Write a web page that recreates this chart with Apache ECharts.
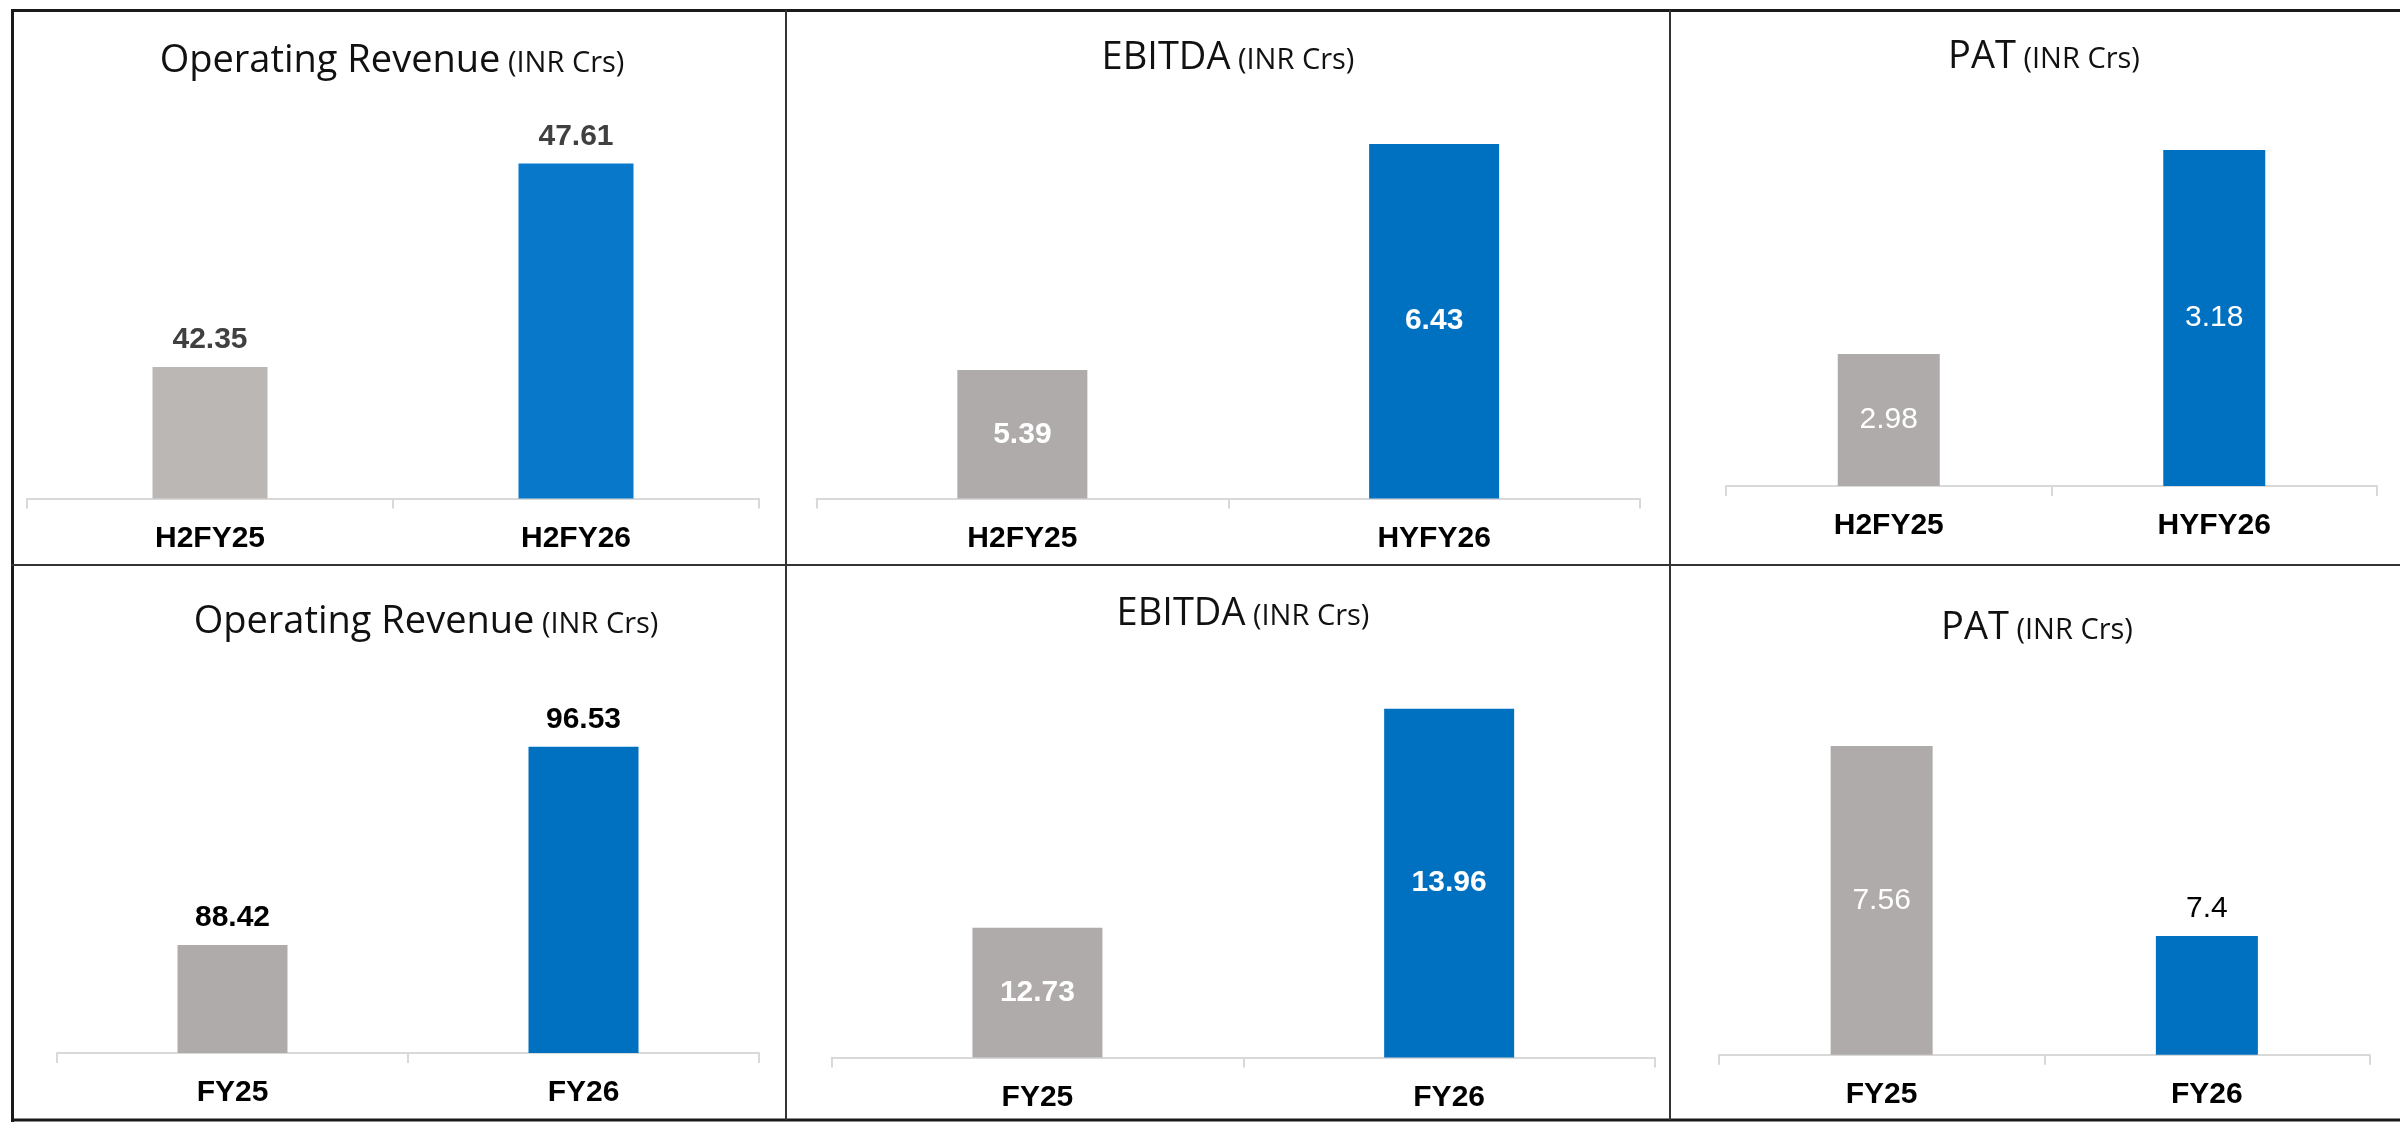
<!DOCTYPE html>
<html>
<head>
<meta charset="utf-8">
<style>
  html, body { margin: 0; padding: 0; background: #ffffff; }
  #chart { width: 2400px; height: 1122px; }
</style>
<script src="https://cdn.jsdelivr.net/npm/echarts@6/dist/echarts.min.js"></script>
</head>
<body>
<div id="chart"></div>
<script>
// ---------------- DATA ----------------
const catsHalfRevenue = ['H2FY25', 'H2FY26'];
const catsHalf = ['H2FY25', 'HYFY26'];
const catsYear = ['FY25', 'FY26'];

const revenueHalf = [42.35, 47.61];
const ebitdaHalf = [5.39, 6.43];
const patHalf = [2.98, 3.18];
const revenueYear = [88.42, 96.53];
const ebitdaYear = [12.73, 13.96];
const patYear = [7.56, 7.4];

const titleNames = ['Operating Revenue', 'EBITDA', 'PAT', 'Operating Revenue', 'EBITDA', 'PAT'];
const titleUnit = '(INR Crs)';

// ---------------- LAYOUT / STYLE ----------------
const NUM_FONT = "'Liberation Sans', Arial, sans-serif";
const TITLE_FONT = "'Open Sans', 'Noto Sans', sans-serif";
const BLUE = '#0070C0';
const GRAY = '#AFABAB';

const panels = [
  { cats: catsHalfRevenue, vals: revenueHalf, left: 27, width: 732, top: 100, axisY: 498.5, min: 38.95, max: 49.25, barW: 115,
    colors: ['#BAB7B5', '#0778CA'], labels: [{pos: 'top', color: '#404040', bold: true}, {pos: 'top', color: '#404040', bold: true}],
    titleX: 392, titleTop: 34 },
  { cats: catsHalf, vals: ebitdaHalf, left: 816.5, width: 823.5, top: 100, axisY: 498.4, min: 4.80, max: 6.632, barW: 130,
    colors: [GRAY, BLUE], labels: [{pos: 'inside', color: '#ffffff', bold: true}, {pos: 'inside', color: '#ffffff', bold: true}],
    titleX: 1228, titleTop: 31 },
  { cats: catsHalf, vals: patHalf, left: 1726, width: 651, top: 100, axisY: 486, min: 2.8506, max: 3.229, barW: 102,
    colors: [GRAY, BLUE], labels: [{pos: 'inside', color: '#ffffff', bold: false}, {pos: 'inside', color: '#ffffff', bold: false}],
    titleX: 2044, titleTop: 30 },
  { cats: catsYear, vals: revenueYear, left: 57, width: 702, top: 662, axisY: 1053, min: 84, max: 100, barW: 110,
    colors: [GRAY, BLUE], labels: [{pos: 'top', color: '#000000', bold: true}, {pos: 'top', color: '#000000', bold: true}],
    titleX: 426, titleTop: 595 },
  { cats: catsYear, vals: ebitdaYear, left: 831.6, width: 823.4, top: 657, axisY: 1057.6, min: 12, max: 14.25, barW: 130,
    colors: [GRAY, BLUE], labels: [{pos: 'inside', color: '#ffffff', bold: true}, {pos: 'inside', color: '#ffffff', bold: true}],
    titleX: 1243, titleTop: 587 },
  { cats: catsYear, vals: patYear, left: 1719, width: 650.5, top: 660, axisY: 1054.7, min: 7.3, max: 7.6325, barW: 102,
    colors: [GRAY, BLUE], labels: [{pos: 'inside', color: '#ffffff', bold: false}, {pos: 'top', color: '#000000', bold: false}],
    titleX: 2037, titleTop: 601 }
];

const grids = [], xAxes = [], yAxes = [], series = [], titles = [];

panels.forEach((p, i) => {
  grids.push({
    left: p.left, width: p.width, top: p.top, height: p.axisY - p.top,
    containLabel: false, outerBoundsMode: 'none'
  });
  xAxes.push({
    type: 'category', gridIndex: i, data: p.cats, boundaryGap: true,
    axisLine: { show: true, lineStyle: { color: '#D9D9D9', width: 2 } },
    axisTick: { show: true, length: 10, lineStyle: { color: '#D9D9D9', width: 2 } },
    axisLabel: { margin: 25, color: '#000000', fontSize: 30, fontWeight: 'bold', fontFamily: NUM_FONT },
    splitLine: { show: false }
  });
  yAxes.push({
    type: 'value', gridIndex: i, min: p.min, max: p.max, show: false,
    splitLine: { show: false }
  });
  series.push({
    type: 'bar', xAxisIndex: i, yAxisIndex: i, barWidth: p.barW,
    data: p.vals.map((v, j) => ({
      value: v,
      itemStyle: { color: p.colors[j] },
      label: {
        show: true,
        position: p.labels[j].pos,
        distance: p.labels[j].pos === 'top' ? 12 : 0,
        color: p.labels[j].color,
        fontSize: 30,
        fontWeight: p.labels[j].bold ? 'bold' : 'normal',
        fontFamily: NUM_FONT
      }
    }))
  });
  titles.push({
    text: '{a|' + titleNames[i] + '}{b| ' + titleUnit + '}',
    left: p.titleX, top: p.titleTop, textAlign: 'center', padding: 0,
    textStyle: {
      fontWeight: 'normal',
      fontFamily: TITLE_FONT,
      color: '#111111',
      rich: {
        a: { fontSize: 38, fontWeight: 'normal', fontFamily: TITLE_FONT, color: '#111111', verticalAlign: 'bottom', lineHeight: 46 },
        b: { fontSize: 29, fontWeight: 'normal', fontFamily: TITLE_FONT, color: '#111111', verticalAlign: 'bottom', lineHeight: 46, padding: [0, 0, 2, 0] }
      }
    }
  });
});

const borderStyle = { stroke: '#1a1a1a', lineWidth: 3 };
const innerStyle = { stroke: '#333333', lineWidth: 2 };
const graphics = [
  { type: 'line', shape: { x1: 11, y1: 10.5, x2: 2400, y2: 10.5 }, style: borderStyle, silent: true },
  { type: 'line', shape: { x1: 12.5, y1: 9, x2: 12.5, y2: 1122 }, style: borderStyle, silent: true },
  { type: 'line', shape: { x1: 11, y1: 1120, x2: 2400, y2: 1120 }, style: borderStyle, silent: true },
  { type: 'line', shape: { x1: 11, y1: 565, x2: 2400, y2: 565 }, style: innerStyle, silent: true },
  { type: 'line', shape: { x1: 786, y1: 10, x2: 786, y2: 1120 }, style: innerStyle, silent: true },
  { type: 'line', shape: { x1: 1670, y1: 10, x2: 1670, y2: 1120 }, style: innerStyle, silent: true }
];

const chart = echarts.init(document.getElementById('chart'), null, { renderer: 'canvas' });
chart.setOption({
  backgroundColor: '#ffffff',
  animation: false,
  title: titles,
  grid: grids,
  xAxis: xAxes,
  yAxis: yAxes,
  series: series,
  graphic: graphics
});
</script>
</body>
</html>
